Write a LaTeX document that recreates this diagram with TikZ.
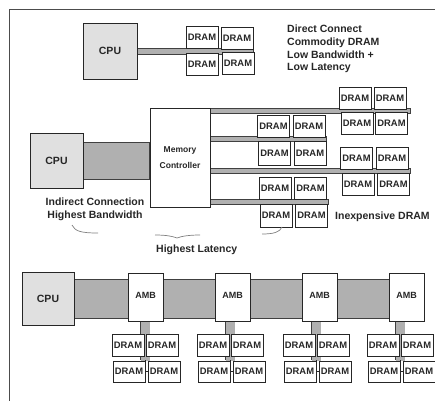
\documentclass[tikz,border=0pt]{standalone}
\usepackage{fontspec}
\setmainfont{Liberation Sans}
\usetikzlibrary{backgrounds}
\begin{document}
\begin{tikzpicture}[x=1pt,y=-1pt,
  box/.style={draw=black!85, line width=0.9pt, inner sep=0pt, text=black!85},
  cpu/.style={box, fill=black!12, font=\bfseries\fontsize{10.5}{12}\selectfont},
  dram/.style={box, fill=white, minimum width=32pt, minimum height=22pt,
    font=\bfseries\fontsize{9.4}{10}\selectfont},
  amb/.style={box, fill=white, minimum width=35pt, minimum height=48pt,
    font=\bfseries\fontsize{9}{10}\selectfont},
  bus/.style={draw=black!75, fill=black!31, line width=0.7pt},
  note/.style={inner sep=0pt, text=black!85, font=\bfseries\fontsize{10.5}{12.7}\selectfont},
  brace/.style={draw=black!50, line width=0.7pt}]
\useasboundingbox (0,0) rectangle (435,401);

% frame
\draw[black!70, line width=1pt] (435,10) -- (9,10) -- (9,401);

% ---------- direct connect ----------
\node[cpu, minimum width=54pt, minimum height=56pt] (cpuA) at (110,51) {CPU};
\node[dram] (ta) at (202,37.5) {DRAM};
\node[dram] (tb) at (237,38) {DRAM};
\node[dram] (tc) at (202,64.5) {DRAM};
\node[dram] (td) at (238,63.5) {DRAM};
\begin{scope}[on background layer]
  \draw[bus] (cpuA.east |- 0,48) rectangle (tb.east |- 0,54);
\end{scope}
\node[note, anchor=west, align=left] (dnote) at (287,49)
  {Direct Connect\\Commodity DRAM\\Low Bandwidth +\\Low Latency};

% ---------- indirect connection through a memory controller ----------
\node[cpu, minimum width=53pt, minimum height=55pt] (cpuB) at (56.5,160.5) {CPU};
\node[box, fill=white, minimum width=60pt, minimum height=99pt, align=center,
  font=\bfseries\fontsize{8.5}{16}\selectfont] (mc) at (180,157.5) {Memory\\Controller};

% channel 1 and 3 (far modules)
\node[dram] (c1a) at (355,98.5) {DRAM};
\node[dram] (c1b) at (390,98.5) {DRAM};
\node[dram] (c1c) at (357,123) {DRAM};
\node[dram] (c1d) at (391.5,123) {DRAM};
\node[dram] (c3a) at (356.5,158) {DRAM};
\node[dram] (c3b) at (392,158) {DRAM};
\node[dram] (c3c) at (358,184) {DRAM};
\node[dram] (c3d) at (393.5,184) {DRAM};
% channel 2 and 4 (near modules)
\node[dram] (c2a) at (273.5,126.5) {DRAM};
\node[dram] (c2b) at (309,126.5) {DRAM};
\node[dram, minimum height=24pt] (c2c) at (274.5,153) {DRAM};
\node[dram, minimum height=24pt] (c2d) at (310,153) {DRAM};
\node[dram] (c4a) at (275,188) {DRAM};
\node[dram] (c4b) at (310.5,188) {DRAM};
\node[dram, minimum height=23pt] (c4c) at (276,215.5) {DRAM};
\node[dram, minimum height=23pt] (c4d) at (311.5,215.5) {DRAM};

\begin{scope}[on background layer]
  \draw[bus] (cpuB.east |- 0,142) rectangle (mc.west |- 0,179);
  \draw[bus] (mc.east |- 0,108.5) rectangle (410,113.5);
  \draw[bus] (mc.east |- 0,136.5) rectangle (c2d.east |- 0,141.5);
  \draw[bus] (mc.east |- 0,168) rectangle (410,173);
  \draw[bus] (mc.east |- 0,199) rectangle (c4d.east |- 0,204.5);
\end{scope}

\node[note, align=center] (ind) at (95,209.5) {Indirect Connection\\Highest Bandwidth};
\node[note, anchor=west] (lat) at (156,250) {Highest Latency};
\node[note, anchor=west] (cheap) at (335,217) {Inexpensive DRAM};

% brace marks pointing at the latency label
\draw[brace] (72,225) .. controls (75,231) and (80,233) .. (98,233);
\draw[brace] (155,235) .. controls (165,235) and (172,236) .. (177,238)
             .. controls (182,236) and (190,235) .. (200,235);
\draw[brace] (262,234) .. controls (274,234) and (280,232) .. (282,227);

% ---------- daisy chain of advanced memory buffers ----------
\node[cpu, minimum width=52pt, minimum height=53pt] (cpuC) at (48,298.5) {CPU};
\foreach \i/\ax/\g in {1/145.5/145, 2/232.5/230, 3/319.5/316, 4/406.5/400} {
  \node[amb] (amb\i) at (\ax,297) {\raisebox{4pt}{AMB}};
  \coordinate (g\i) at (\g,0);
  \node[dram] (m\i a) at (\g-17,345.5) {DRAM};
  \node[dram] (m\i b) at (\g+17,345.5) {DRAM};
  \node[dram, minimum height=21pt] (m\i c) at (\g-16,371.5) {DRAM};
  \node[dram, minimum height=21pt] (m\i d) at (\g+19,371.5) {DRAM};
  \draw[black!85, line width=0.7pt] (m\i c.east) -- (m\i d.west);
  \begin{scope}[on background layer]
    \draw[black!75, line width=10.4pt] (amb\i.south -| g\i) -- (g\i |- 0,360);
    \draw[black!31, line width=9pt] (amb\i.south -| g\i) -- (g\i |- 0,360.7);
    \draw[black!85, line width=0.7pt] (g\i |- 0,360) -- (g\i |- 0,383);
  \end{scope}
}
\begin{scope}[on background layer]
  \draw[bus] (cpuC.east |- 0,279) rectangle (amb4.center |- 0,318);
\end{scope}
\end{tikzpicture}
\end{document}
